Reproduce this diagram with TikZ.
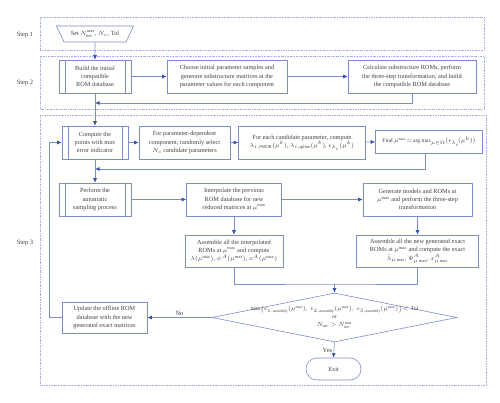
\documentclass[tikz,border=0pt]{standalone}
\usepackage{amsmath}
\usepackage{fontspec}
\setmainfont{Liberation Serif}
\usetikzlibrary{shapes.geometric,arrows.meta}

\definecolor{boxblue}{RGB}{125,140,205}
\definecolor{tipblue}{RGB}{55,85,175}
\definecolor{frameblue}{RGB}{165,175,225}
\definecolor{txtgray}{RGB}{65,65,65}

\tikzset{
  stepbox/.style={draw=boxblue, line width=0.6pt, fill=white, align=center,
    inner sep=1pt, text=txtgray, font=\fontsize{6.3}{8.2}\selectfont},
  flow/.style={draw=boxblue, line width=0.6pt, -{Latex[length=4.5pt,width=4pt,color=tipblue]}},
  link/.style={draw=boxblue, line width=0.6pt},
  stepframe/.style={draw=frameblue, line width=0.6pt, dash pattern=on 2pt off 1pt on 0.6pt off 1pt},
  steplabel/.style={text=txtgray, font=\fontsize{6.5}{8}\selectfont},
  edgelabel/.style={text=txtgray, font=\fontsize{6.5}{8}\selectfont, inner sep=1.5pt},
}

% inner sides of a predefined-process box
\newcommand\procsides[1]{
  \draw[link] ([xshift=6.5pt]#1.north west) -- ([xshift=6.5pt]#1.south west);
  \draw[link] ([xshift=-6.5pt]#1.north east) -- ([xshift=-6.5pt]#1.south east);
}

\begin{document}
\begin{tikzpicture}[x=1pt, y=-1pt]
  \useasboundingbox (0,0) rectangle (500,403);

  % step frames
  \draw[stepframe] (40,17) rectangle (484,50);
  \draw[stepframe] (40,56) rectangle (484,109);
  \draw[stepframe] (40,115) rectangle (486,385);
  \node[steplabel] (s1) at (25,35) {Step 1};
  \node[steplabel] (s2) at (25,83) {Step 2};
  \node[steplabel] (s3) at (25,243) {Step 3};

  % step 1
  \node[stepbox, trapezium, trapezium left angle=49, trapezium right angle=49,
        shape border rotate=180, trapezium stretches body,
        minimum width=77, minimum height=16] (set) at (95,34)
        {Set $N^{\max}_{\text{iter}}$, $N_c$, Tol};

  % step 2
  \node[stepbox, minimum width=72, minimum height=33] (build) at (95,76.5)
        {Build the initial\\compatible\\ROM database};
  \procsides{build}
  \node[stepbox, minimum width=120, minimum height=33] (choose) at (227,76.5)
        {Choose initial parameter samples and\\generate substructure matrices at the\\parameter values for each component};
  \node[stepbox, minimum width=128, minimum height=33] (calc) at (412,76.5)
        {Calculate substructure ROMs, perform\\the three-step transformation, and build\\the compatible ROM database};

  % step 3
  \node[stepbox, minimum width=66, minimum height=33] (compute) at (95,142.5)
        {Compute the\\points with max\\error indicator};
  \procsides{compute}
  \node[stepbox, minimum width=91, minimum height=33] (param) at (184.5,142.5)
        {For parameter-dependent\\component, randomly select\\$N_c$ candidate parameters};
  \node[stepbox, minimum width=127, minimum height=33] (foreach) at (302,142.5)
        {For each candidate parameter, compute\\$\lambda_{i,\text{PMOR}}(\mu^k)$, $\lambda_{i,\text{spline}}(\mu^k)$, $\epsilon_{\lambda_i}(\mu^k)$};
  \node[stepbox, minimum width=107, minimum height=23, font=\fontsize{5.6}{7}\selectfont] (find) at (429,141.5)
        {Find $\mu^{\max}\!=\!\operatorname{arg\,max}_{\mu\in\Omega}(\epsilon_{\lambda_i}\!(\mu^k))$};

  \node[stepbox, minimum width=72, minimum height=33] (perform) at (95,199.5)
        {Perform the\\automatic\\sampling process};
  \procsides{perform}
  \node[stepbox, minimum width=95, minimum height=33] (interp) at (234,199.5)
        {Interpolate the previous\\ROM database for new\\reduced matrices at $\mu^{\max}$};
  \node[stepbox, minimum width=109, minimum height=33] (generate) at (417.5,199.5)
        {Generate models and ROMs at\\$\mu^{\max}$ and perform the three-step\\transformation};
  \node[stepbox, minimum width=98, minimum height=32] (asmi) at (234,251)
        {Assemble all the interpolated\\ROMs at $\mu^{\max}$ and compute\\$\lambda(\mu^{\max})$, $\psi^{A}(\mu^{\max})$, $x^{A}(\mu^{\max})$};
  \node[stepbox, minimum width=122, minimum height=32, font=\fontsize{6.3}{8.6}\selectfont] (asme) at (417.5,251)
        {Assemble all the new generated exact\\ROMs at $\mu^{\max}$ and compute the exact\\$\hat{\lambda}_{\mu\max}$, $\Psi^{A}_{\mu\max}$, $x^{A}_{\mu\max}$};

  \node[stepbox, diamond, minimum width=245, minimum height=49, inner sep=0pt] (dec) at (334.5,317.5) {};
  \node[text=txtgray, align=center, font=\fontsize{5.6}{8}\selectfont] (dectext) at (dec.center)
        {$\max\!\left\{\epsilon_{1,\text{assembly}}(\mu^{\max}),\, \epsilon_{2,\text{assembly}}(\mu^{\max}),\, \epsilon_{3,\text{assembly}}(\mu^{\max})\right\}\!<\text{Tol}$\\or\\$N_{\text{iter}}>N^{\max}_{\text{iter}}$};
  \node[stepbox, minimum width=85, minimum height=31] (update) at (104.5,317.5)
        {Update the offline ROM\\database with the new\\generated exact matrices};
  \node[stepbox, rounded corners=11pt, minimum width=55, minimum height=22] (exit) at (333.5,369) {Exit};

  % connectors
  \coordinate (join2) at (95,103);
  \coordinate (join3) at (95,169);
  \coordinate (merge) at (334.5,284);
  \draw[flow] (set) -- (build);
  \draw[flow] (build) -- (choose);
  \draw[flow] (choose) -- (calc);
  \draw[flow] (calc.south) |- (join2);
  \draw[flow] (build) -- (compute);
  \draw[flow] (compute) -- (param);
  \draw[flow] (param) -- (foreach);
  \draw[flow] (foreach) -- (find);
  \draw[flow] ([xshift=-4pt]find.south) |- (join3);
  \draw[flow] (compute) -- (perform);
  \draw[flow] (perform) -- (interp);
  \draw[flow] (interp) -- (generate);
  \draw[flow] (interp) -- (asmi);
  \draw[flow] (generate) -- (asme);
  \draw[link] (asmi.south) |- (merge) -| (asme.south);
  \draw[flow] (merge) -- (dec.north);
  \draw[flow] (dec.west) -- node[edgelabel, above] {No} (update.east);
  \draw[flow] (update.west) -- ++(-12,0) |- (compute.west);
  \draw[flow] (dec.south) -- node[edgelabel, left] {Yes} (exit.north);
\end{tikzpicture}
\end{document}
